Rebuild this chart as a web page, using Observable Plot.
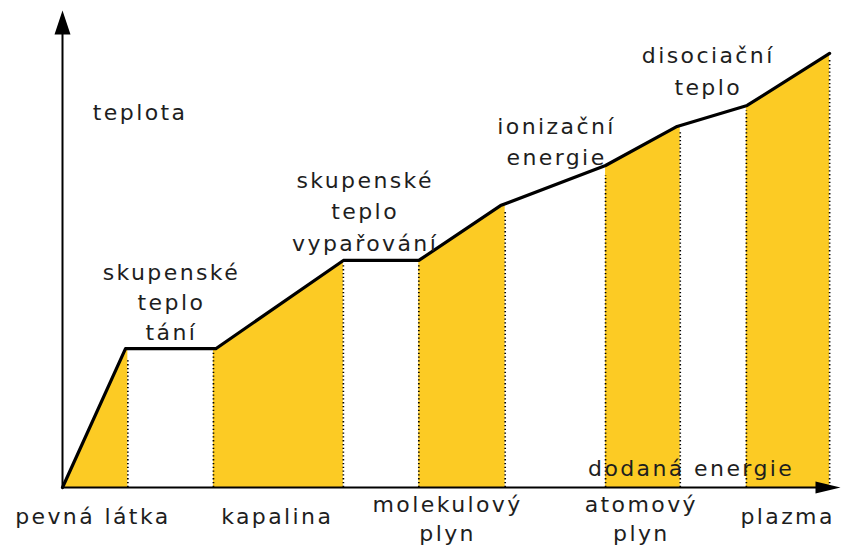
<!DOCTYPE html>
<html>
<head>
<meta charset="utf-8">
<script src="https://cdn.jsdelivr.net/npm/d3@7"></script>
<script src="https://cdn.jsdelivr.net/npm/@observablehq/plot@0.6"></script>
<style>
  html, body { margin: 0; padding: 0; background: #fff; }
</style>
</head>
<body>
<div id="chart"></div>
<script>
// Heating curve: supplied energy vs. temperature (arbitrary units 0–100)
const energy      = [0, 8.1, 19.7, 36.1, 45.8, 56.3, 69.8, 79.0, 88.0, 98.6];
const temperature = [0, 29.1, 29.1, 47.6, 47.6, 59.1, 67.5, 75.7, 80.1, 91.0];

// Energy ranges of the shaded (heating) phases
const bandStart = [0, 19.4, 45.8, 69.8, 87.9];
const bandEnd   = [8.4, 36.1, 56.9, 79.4, 98.6];
// Top of the dotted guide at each band edge
const edgeTop   = [[8.4, 27], [19.4, 28.5], [36.1, 46.5], [45.8, 46.5], [56.9, 58],
                   [69.8, 65.4], [79.4, 74.8], [87.9, 79], [98.6, 90]];

const yLabel = "teplota";
const xLabel = "dodaná energie";
const stateLabels = ["pevná látka", "kapalina", "molekulový\nplyn", "atomový\nplyn", "plazma"];
const heatLabels  = ["skupenské\nteplo\ntání", "skupenské\nteplo\nvypařování", "ionizační\nenergie", "disociační\nteplo"];

const curve = energy.map((e, i) => ({e, t: temperature[i]}));
const gaps = bandEnd.slice(0, -1).map((b, i) => ({x1: b, x2: bandStart[i + 1]}));
const edges = edgeTop.map(([e, top]) => ({e, top}));

const stateAt = [[3.9, -5.6], [27.6, -5.6], [49.5, -6.3], [74.4, -6.3], [93.2, -5.6]];
const states = stateLabels.map((s, i) => ({text: s, x: stateAt[i][0], y: stateAt[i][1]}));
const heatAt = [[14.0, 39.2, 1.35], [38.9, 58.3, 1.43], [63.5, 72.9, 1.4], [83.0, 87.8, 1.45]];

const arrowUp = {draw(ctx) { ctx.moveTo(0, 0); ctx.lineTo(-8, 24); ctx.lineTo(8, 24); ctx.closePath(); }};
const arrowRight = {draw(ctx) { ctx.moveTo(0, 0); ctx.lineTo(-6, 25); ctx.lineTo(6, 25); ctx.closePath(); }};

const yellow = "#fccb24";
const ink = "#1e1e1e";
const font = {fontSize: 22, fill: ink, stroke: "none"};

const chart = Plot.plot({
  width: 842,
  height: 548,
  marginLeft: 62,
  marginRight: 2,
  marginTop: 10,
  marginBottom: 61,
  x: {domain: [0, 100], axis: null},
  y: {domain: [0, 100], axis: null},
  style: {fontFamily: "DejaVu Sans", letterSpacing: "2.4px", background: "#fff", overflow: "visible"},
  marks: [
    Plot.areaY(curve, {x: "e", y: "t", fill: yellow}),
    Plot.rect(gaps, {x1: "x1", x2: "x2", y1: 0, y2: 100, fill: "#fff"}),
    Plot.ruleX(edges, {x: "e", y1: 0, y2: "top", stroke: "#000", strokeWidth: 1.7, strokeDasharray: "1.3 2.5"}),
    Plot.line(curve, {x: "e", y: "t", stroke: "#000", strokeWidth: 3.2, strokeLinejoin: "round"}),
    Plot.ruleX([0], {y1: 0, y2: 96, stroke: "#000", strokeWidth: 2}),
    Plot.ruleY([0], {x1: 0, x2: 98, stroke: "#000", strokeWidth: 2}),
    Plot.dot([{x: 0, y: 100}], {x: "x", y: "y", symbol: arrowUp, fill: "#000", stroke: "none", r: 4}),
    Plot.dot([{x: 100, y: 0}], {x: "x", y: "y", symbol: arrowRight, rotate: 90, fill: "#000", stroke: "none", r: 4}),
    Plot.text([yLabel], {x: 3.9, y: 78.6, text: d => d, textAnchor: "start", ...font}),
    Plot.text([xLabel], {x: 80.8, y: 3.8, text: d => d, ...font}),
    Plot.text(states, {x: "x", y: "y", text: "text", lineHeight: 1.32, lineAnchor: "middle", ...font}),
    ...heatLabels.map((h, i) => Plot.text([h], {x: heatAt[i][0], y: heatAt[i][1], text: d => d, lineHeight: heatAt[i][2], lineAnchor: "middle", ...font}))
  ]
});
document.getElementById("chart").appendChild(chart);
</script>
</body>
</html>
